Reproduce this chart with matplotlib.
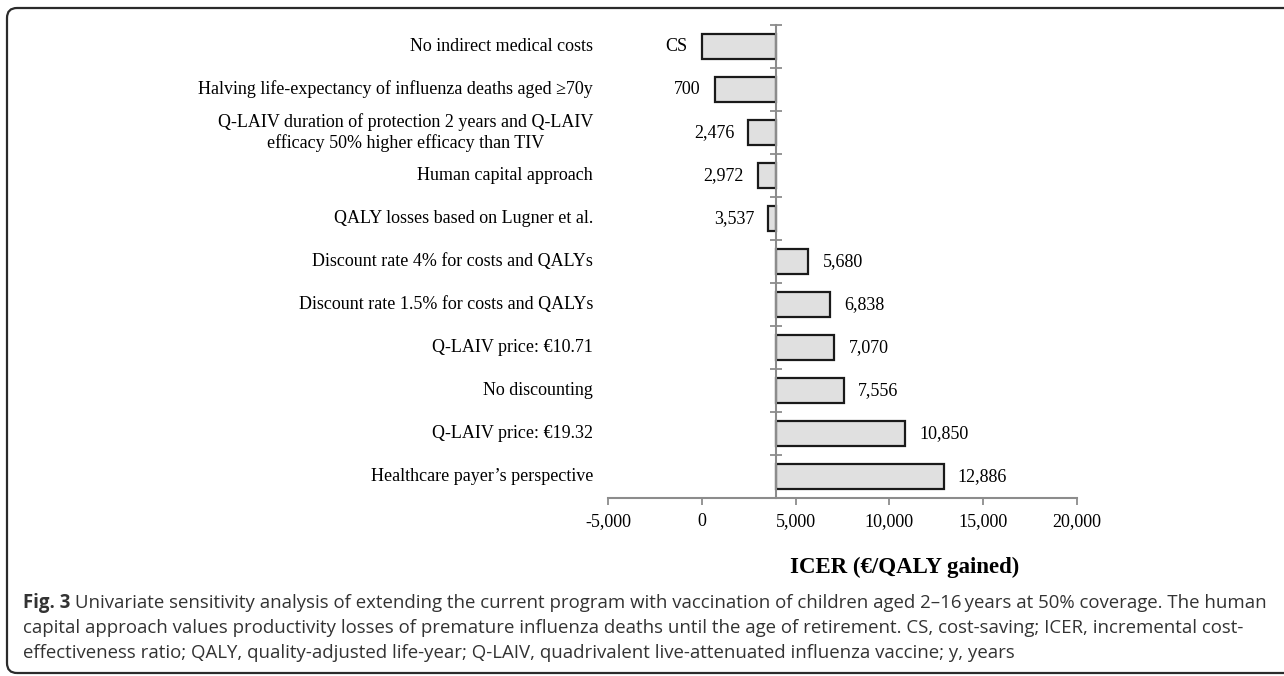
import numpy as np
import matplotlib.pyplot as plt
from matplotlib.patches import FancyBboxPatch
from matplotlib.ticker import FuncFormatter

# scenarios (top to bottom) and their ICERs
scenarios = [
    "No indirect medical costs",
    "Halving life-expectancy of influenza deaths aged \u226570y",
    "Q-LAIV duration of protection 2 years and Q-LAIV\nefficacy 50% higher efficacy than TIV",
    "Human capital approach",
    "QALY losses based on Lugner et al.",
    "Discount rate 4% for costs and QALYs",
    "Discount rate 1.5% for costs and QALYs",
    "Q-LAIV price: \u20ac10.71",
    "No discounting",
    "Q-LAIV price: \u20ac19.32",
    "Healthcare payer\u2019s perspective",
]
icer = [0, 700, 2476, 2972, 3537, 5680, 6838, 7070, 7556, 10850, 12886]
icer_labels = ["CS", "700", "2,476", "2,972", "3,537", "5,680", "6,838",
               "7,070", "7,556", "10,850", "12,886"]
base_case = 3940  # where the vertical axis crosses
xticks = [-5000, 0, 5000, 10000, 15000, 20000]

serif = "Liberation Serif"
fs = 13
W, H = 1284, 676
fig = plt.figure(figsize=(W / 100, H / 100), dpi=100)
ax = fig.add_axes([608 / W, 1 - 498 / H, (1077 - 608) / W, (498 - 25) / H])

y = np.arange(len(scenarios))
vals = np.array(icer)
ax.barh(y, vals - base_case, left=base_case, height=0.56,
        color="#e0e0e0", edgecolor="#1a1a1a", linewidth=1.6, zorder=2)

ax.set_xlim(-5000, 20000)
ax.set_ylim(len(scenarios) - 0.5, -0.5)

# axes styling
for s in ["top", "right"]:
    ax.spines[s].set_visible(False)
ax.spines["left"].set_position(("data", base_case))
ax.spines["left"].set_color("#8c8c8c")
ax.spines["left"].set_linewidth(1.5)
ax.spines["left"].set_zorder(3)
ax.spines["bottom"].set_color("#8c8c8c")
ax.spines["bottom"].set_linewidth(1.5)

ax.set_yticks(np.arange(-0.5, len(scenarios), 1))
ax.set_yticklabels([])
ax.tick_params(axis="y", direction="inout", length=9, width=1.3, color="#8c8c8c")

ax.set_xticks(xticks)
ax.xaxis.set_major_formatter(FuncFormatter(lambda v, p: f"{int(v):,}"))
ax.tick_params(axis="x", direction="out", length=5, width=1.3, color="#8c8c8c",
               pad=6, labelsize=fs)
for lab in ax.get_xticklabels():
    lab.set_fontfamily(serif)

# category labels on the left
trans = ax.get_yaxis_transform()
for yi, name in zip(y, scenarios):
    ax.text(-0.032, yi, name, transform=trans, ha="right", va="center",
            multialignment="center", fontsize=fs, family=serif, linespacing=1.25)

# value labels at bar ends
for yi, v, lab in zip(y, vals, icer_labels):
    if v < base_case:
        ax.text(v - 750, yi, lab, ha="right", va="center", fontsize=fs, family=serif)
    else:
        ax.text(v + 750, yi, lab, ha="left", va="center", fontsize=fs, family=serif)

fig.text(790 / W, 1 - 567 / H, "ICER (\u20ac/QALY gained)", ha="left", va="center",
         fontsize=16.5, fontweight="bold", family=serif)

# caption
cap_font = ["Open Sans", "DejaVu Sans"]
cap_color = "#333333"
cap_lines = [
    "Univariate sensitivity analysis of extending the current program with vaccination of children aged 2\u201316\u2009years at 50% coverage. The human",
    "capital approach values productivity losses of premature influenza deaths until the age of retirement. CS, cost-saving; ICER, incremental cost-",
    "effectiveness ratio; QALY, quality-adjusted life-year; Q-LAIV, quadrivalent live-attenuated influenza vaccine; y, years",
]
cap_y = [603, 628, 653]
cap_size = 13.4
x0 = 23 / W
t = fig.text(x0, 1 - cap_y[0] / H, "Fig. 3", fontsize=cap_size, fontweight="bold",
             family=cap_font, color=cap_color, va="center")
fig.canvas.draw()
bb = t.get_window_extent()
fig.text((bb.x1 + 5) / W, 1 - cap_y[0] / H, cap_lines[0], fontsize=cap_size,
         family=cap_font, color=cap_color, va="center")
for line, yy in zip(cap_lines[1:], cap_y[1:]):
    fig.text(x0, 1 - yy / H, line, fontsize=cap_size, family=cap_font,
             color=cap_color, va="center")

# rounded frame around figure + caption (open on the right)
frame = FancyBboxPatch((7, H - 673), 1450, 665,
                       boxstyle="round,pad=0,rounding_size=10",
                       transform=None, fill=False, edgecolor="#2b2b2b", linewidth=1.6)
fig.patches.append(frame)

fig.savefig("out.png", dpi=100)
